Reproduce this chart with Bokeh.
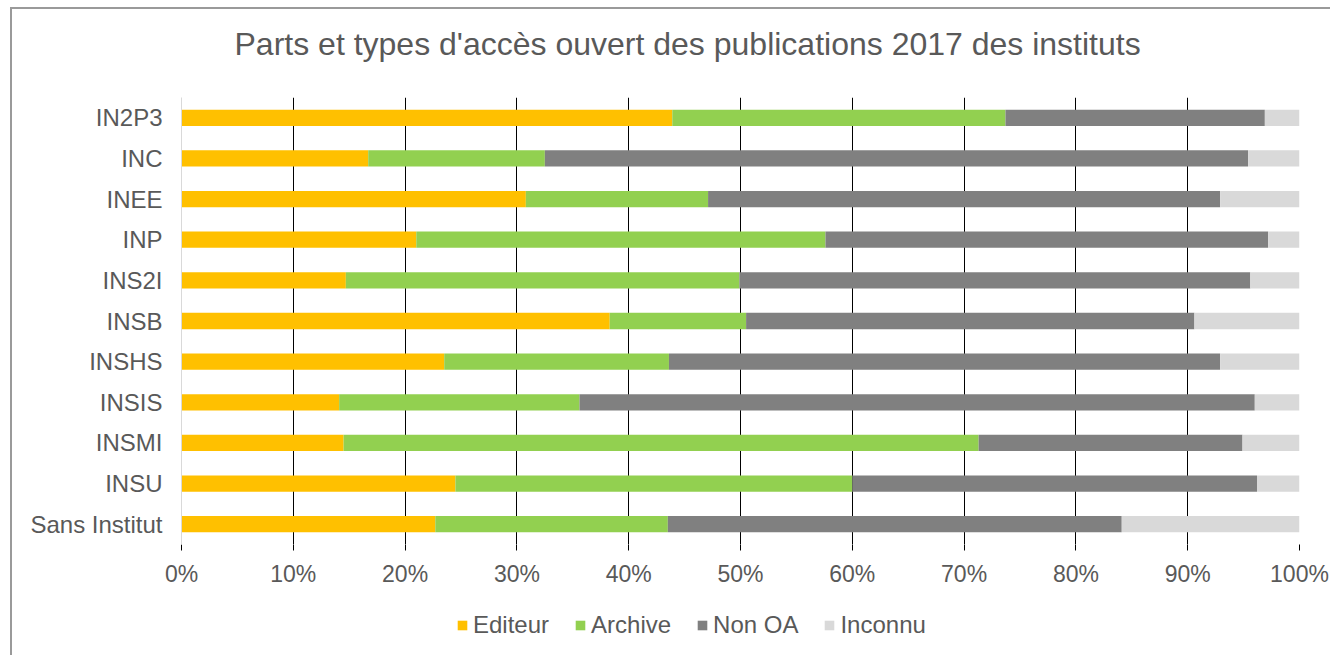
from bokeh.plotting import figure
from bokeh.layouts import column
from bokeh.models import (ColumnDataSource, FactorRange, Range1d, FixedTicker,
                          PrintfTickFormatter, Legend, LegendItem)
from bokeh.embed import file_html
from bokeh.resources import INLINE

instituts = ["IN2P3", "INC", "INEE", "INP", "INS2I", "INSB", "INSHS",
             "INSIS", "INSMI", "INSU", "Sans Institut"]
editeur = [43.9, 16.7, 30.8, 21.0, 14.7, 38.3, 23.5, 14.1, 14.5, 24.5, 22.7]
archive = [29.8, 15.8, 16.3, 36.6, 35.2, 12.2, 20.1, 21.5, 56.8, 35.5, 20.8]
non_oa = [23.2, 62.9, 45.8, 39.6, 45.7, 40.1, 49.3, 60.4, 23.6, 36.2, 40.6]
inconnu = [3.1, 4.6, 7.1, 2.8, 4.4, 9.4, 7.1, 4.0, 5.1, 3.8, 15.9]
series = ["Editeur", "Archive", "Non OA", "Inconnu"]
colors = ["#FFC000", "#92D050", "#808080", "#D9D9D9"]
x_ticks = [0, 10, 20, 30, 40, 50, 60, 70, 80, 90, 100]
stack_cols = ["editeur", "archive", "non_oa", "inconnu"]

FONT = "Liberation Sans"
TXT = "#595959"
W = 1318

src = ColumnDataSource(dict(inst=instituts, editeur=editeur, archive=archive,
                            non_oa=non_oa, inconnu=inconnu))

# --- title strip ---
p_head = figure(width=W, height=88, output_backend="svg", toolbar_location=None,
                x_axis_location=None, y_axis_location=None,
                min_border_left=0, min_border_right=0, min_border_top=0,
                min_border_bottom=0)
p_head.outline_line_color = None
p_head.grid.visible = False
p_head.title.text = "Parts et types d'accès ouvert des publications 2017 des instituts"
p_head.title.text_font = FONT
p_head.title.text_font_size = "32px"
p_head.title.text_font_style = "normal"
p_head.title.text_color = TXT
p_head.title.align = "left"
p_head.title.offset = 53
p_head.title.vertical_align = "top"
p_head.title.standoff = 33

# --- main chart ---
p = figure(width=W, height=502, output_backend="svg", toolbar_location=None,
           y_range=FactorRange(factors=list(reversed(instituts))),
           x_range=Range1d(0, 100),
           min_border_left=169, min_border_right=31, min_border_top=0,
           min_border_bottom=55)

renderers = p.hbar_stack(stack_cols, y="inst", height=0.4, color=colors,
                         line_color=None, source=src)

p.outline_line_color = None
p.ygrid.grid_line_color = None
p.xgrid.ticker = FixedTicker(ticks=x_ticks)
p.xgrid.grid_line_color = "black"
p.xgrid.grid_line_width = 1

p.xaxis.ticker = FixedTicker(ticks=x_ticks)
p.xaxis.formatter = PrintfTickFormatter(format="%d%%")
p.xaxis.axis_line_color = None
p.xaxis.major_tick_line_color = "black"
p.xaxis.major_tick_out = 6
p.xaxis.major_tick_in = 0
p.xaxis.minor_tick_line_color = None
p.xaxis.major_label_standoff = 10
p.xaxis.major_label_text_font = FONT
p.xaxis.major_label_text_font_size = "23px"
p.xaxis.major_label_text_color = TXT

p.yaxis.axis_line_color = "#D9D9D9"
p.yaxis.major_tick_line_color = None
p.yaxis.minor_tick_line_color = None
p.yaxis.major_label_standoff = 13
p.yaxis.major_label_text_font = FONT
p.yaxis.major_label_text_font_size = "24px"
p.yaxis.major_label_text_color = TXT

# --- legend strip (hidden copies of the series supply the legend swatches) ---
p_leg = figure(width=W, height=56, output_backend="svg", toolbar_location=None,
               y_range=FactorRange(factors=list(reversed(instituts))),
               x_range=Range1d(0, 100),
               x_axis_location=None, y_axis_location=None,
               min_border_left=0, min_border_right=0, min_border_top=0,
               min_border_bottom=0)
p_leg.outline_line_color = None
p_leg.grid.visible = False
leg_renderers = p_leg.hbar_stack(stack_cols, y="inst", height=0.4, color=colors,
                                 line_color=None, source=src)
for r in leg_renderers:
    r.visible = False
legend = Legend(items=[LegendItem(label=s, renderers=[r])
                       for s, r in zip(series, leg_renderers)],
                orientation="horizontal", location=(275, 16),
                click_policy="none",
                glyph_width=12, glyph_height=12, label_standoff=5, spacing=25,
                padding=0, margin=0, border_line_color=None,
                background_fill_alpha=0,
                label_text_font=FONT, label_text_font_size="24px",
                label_text_color=TXT)
p_leg.add_layout(legend)

layout = column(p_head, p, p_leg, spacing=0)
layout.styles = {"margin-left": "10px", "margin-top": "7px",
                 "border-left": "2px solid #9a9a9a",
                 "border-top": "2px solid #9a9a9a"}

open("out.html", "w").write(file_html(layout, INLINE))
